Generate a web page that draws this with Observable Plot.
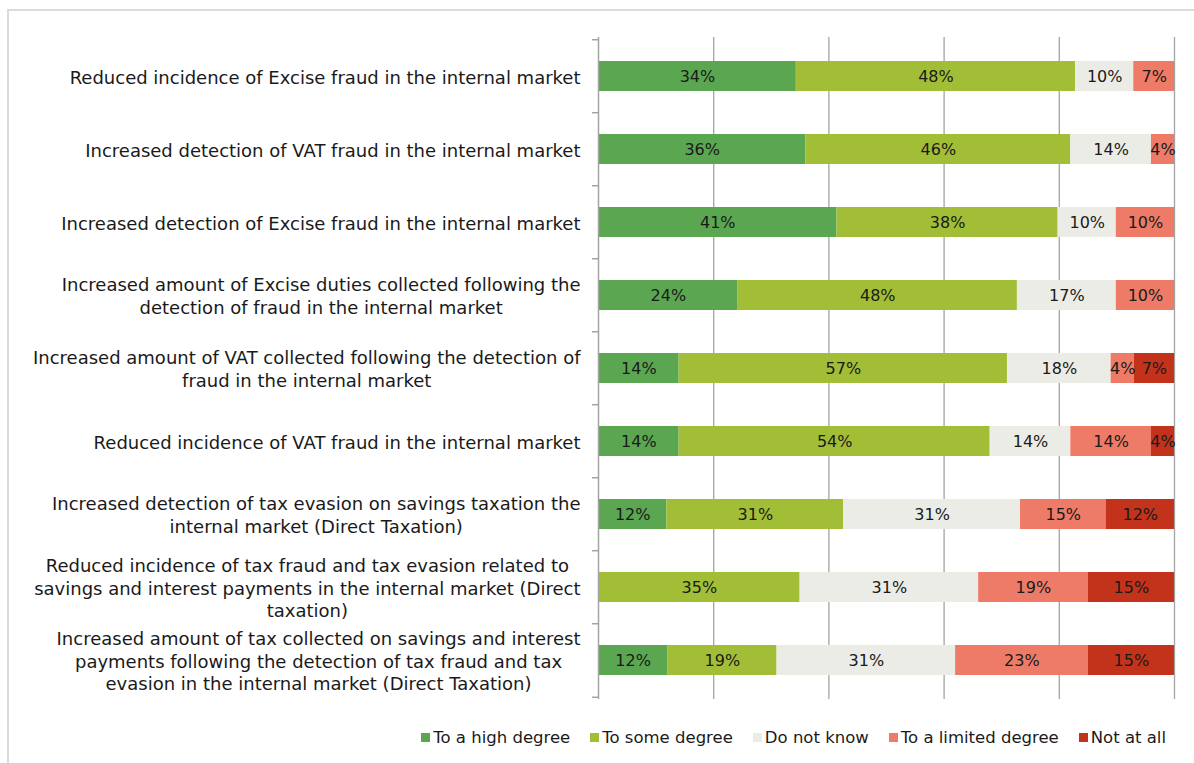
<!DOCTYPE html>
<html>
<head>
<meta charset="utf-8">
<script src="https://cdn.jsdelivr.net/npm/d3@7"></script>
<script src="https://cdn.jsdelivr.net/npm/@observablehq/plot@0.6"></script>
<style>
  html, body { margin: 0; padding: 0; background: #fff; }
  #wrap { position: relative; width: 1194px; height: 763px; overflow: hidden; font-family: "DejaVu Sans", Verdana, sans-serif; }
  #frame { position: absolute; left: 7px; top: 9px; right: -10px; bottom: -10px; border-top: 2px solid #dcdcd4; border-left: 2px solid #dcdcd4; }
  #chart { position: absolute; left: 0; top: 0; }
  #legend { position: absolute; top: 728px; left: 0; width: 1166px; display: flex; justify-content: flex-end; gap: 20px; font-size: 16.5px; color: #1a1a1a; }
  #legend .item { display: flex; align-items: center; gap: 3px; }
  #legend .sw { width: 9px; height: 9px; display: inline-block; }
</style>
</head>
<body>
<div id="wrap">
  <div id="frame"></div>
  <div id="chart"></div>
  <div id="legend"></div>
</div>
<script>
const categories = [
  "Reduced incidence of Excise fraud in the internal market",
  "Increased detection of VAT fraud in the internal market",
  "Increased detection of Excise fraud in the internal market",
  "Increased amount of Excise duties collected following the detection of fraud in the internal market",
  "Increased amount of VAT collected following the detection of fraud in the internal market",
  "Reduced incidence of VAT fraud in the internal market",
  "Increased detection of tax evasion on savings taxation the internal market (Direct Taxation)",
  "Reduced incidence of tax fraud and tax evasion related to savings and interest payments in the internal market (Direct taxation)",
  "Increased amount of tax collected on savings and interest payments following the detection of tax fraud and tax evasion in the internal market (Direct Taxation)"
];
const categoryLabels = [
  "Reduced incidence of Excise fraud in the internal market",
  "Increased detection of VAT fraud in the internal market",
  "Increased detection of Excise fraud in the internal market",
  "Increased amount of Excise duties collected following the\ndetection of fraud in the internal market",
  "Increased amount of VAT collected following the detection of\nfraud in the internal market",
  "Reduced incidence of VAT fraud in the internal market",
  "Increased detection of tax evasion on savings taxation the\ninternal market (Direct Taxation)",
  "Reduced incidence of tax fraud and tax evasion related to\nsavings and interest payments in the internal market (Direct\ntaxation)",
  "Increased amount of tax collected on savings and interest\npayments following the detection of tax fraud and tax\nevasion in the internal market (Direct Taxation)"
];
const seriesNames = ["To a high degree", "To some degree", "Do not know", "To a limited degree", "Not at all"];
const seriesColors = ["#5ba651", "#a2be36", "#ecece7", "#ee7b67", "#c3331b"];

const toAHighDegree    = [34, 36, 41, 24, 14, 14, 12,  0, 12];
const toSomeDegree     = [48, 46, 38, 48, 57, 54, 31, 35, 19];
const doNotKnow        = [10, 14, 10, 17, 18, 14, 31, 31, 31];
const toALimitedDegree = [ 7,  4, 10, 10,  4, 14, 15, 19, 23];
const notAtAll         = [ 0,  0,  0,  0,  7,  4, 12, 15, 15];

const seriesValues = [toAHighDegree, toSomeDegree, doNotKnow, toALimitedDegree, notAtAll];
const data = [];
categories.forEach((c, i) => {
  seriesNames.forEach((s, j) => {
    data.push({category: c, series: s, value: seriesValues[j][i]});
  });
});
const labelOf = new Map(categories.map((c, i) => [c, categoryLabels[i]]));

const W = 1194, H = 715, mTop = 37, mBottom = 16, mLeft = 598, mRight = 20;
const step = (H - mTop - mBottom) / categories.length;
const gridColor = "#a3a3a3";

const plot = Plot.plot({
  width: W,
  height: H,
  marginTop: mTop,
  marginBottom: mBottom,
  marginLeft: mLeft,
  marginRight: mRight,
  style: {fontFamily: "DejaVu Sans, Verdana, sans-serif", background: "transparent"},
  x: {domain: [0, 1], axis: null},
  y: {domain: categories, paddingInner: 0.59, paddingOuter: 0.295, axis: null, label: null},
  color: {domain: seriesNames, range: seriesColors},
  marks: [
    Plot.ruleX([0.2, 0.4, 0.6, 0.8, 1.0], {stroke: gridColor, strokeWidth: 1.3}),
    Plot.barX(data.filter(d => d.value > 0), Plot.stackX({
      x: "value", y: "category", fill: "series", z: "series",
      offset: "normalize", order: seriesNames
    })),
    Plot.text(data.filter(d => d.value > 0), Plot.stackX({
      x: "value", y: "category", z: "series",
      offset: "normalize", order: seriesNames,
      text: d => d.value + "%", fill: "#1a1a1a", fontSize: 16
    })),
    Plot.ruleX([0], {stroke: gridColor, strokeWidth: 1.5}),
    Plot.ruleY(categories, {y: d => d, x1: 0, x2: 0, insetLeft: -6, dy: -step / 2, stroke: gridColor, strokeWidth: 1.5}),
    Plot.ruleY(categories.slice(-1), {y: d => d, x1: 0, x2: 0, insetLeft: -6, dy: step / 2, stroke: gridColor, strokeWidth: 1.5}),
    Plot.axisY({
      tickSize: 0, tickPadding: 18, fontSize: 18, lineHeight: 1.25, label: null,
      tickFormat: d => labelOf.get(d), fill: "#1a1a1a", textAnchor: "end"
    })
  ]
});
document.getElementById("chart").appendChild(plot);

// Center the lines of each multi-line label inside its right-aligned block (as in the original)
d3.select(plot).selectAll("g[aria-label='y-axis tick label'] text").each(function() {
  const tspans = Array.from(this.querySelectorAll("tspan"));
  if (tspans.length < 2) return;
  const w = d3.max(tspans, t => t.getComputedTextLength());
  this.setAttribute("text-anchor", "middle");
  tspans.forEach(t => t.setAttribute("x", -w / 2));
});

const legend = document.getElementById("legend");
seriesNames.forEach((s, i) => {
  const item = document.createElement("div");
  item.className = "item";
  const sw = document.createElement("span");
  sw.className = "sw";
  sw.style.background = seriesColors[i];
  const t = document.createElement("span");
  t.textContent = s;
  item.appendChild(sw);
  item.appendChild(t);
  legend.appendChild(item);
});
</script>
</body>
</html>
